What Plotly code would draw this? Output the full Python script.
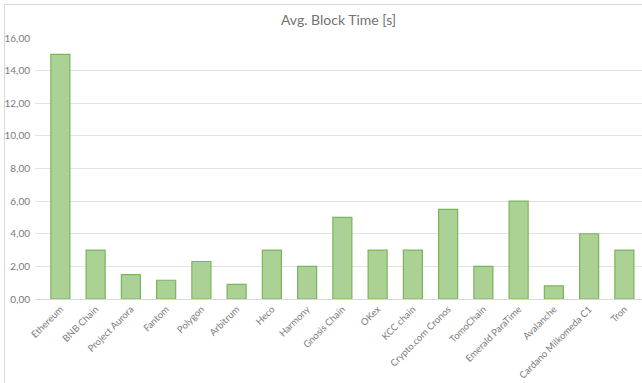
import plotly.graph_objects as go

categories = ["Ethereum", "BNB Chain", "Project Aurora", "Fantom", "Polygon", "Arbitrum",
              "Heco", "Harmony", "Gnosis Chain", "OKex", "KCC chain", "Crypto.com Cronos",
              "TomoChain", "Emerald ParaTime", "Avalanche", "Cardano Milkomeda C1", "Tron"]
block_time = [15.0, 3.0, 1.5, 1.15, 2.3, 0.9, 3.0, 2.0, 5.0, 3.0, 3.0, 5.5, 2.0, 6.0, 0.8, 4.0, 3.0]
y_ticks = [0, 2, 4, 6, 8, 10, 12, 14, 16]
y_tick_labels = ["0,00", "2,00", "4,00", "6,00", "8,00", "10,00", "12,00", "14,00", "16,00"]

W, H = 642, 383
ml, mr, mt, mb = 35, 0, 38, 84

fig = go.Figure(go.Bar(
    x=list(range(len(categories))), y=block_time,
    marker=dict(color="#abd294", line=dict(color="#7ab55c", width=1.2)),
    width=0.54,
))

pw = W - ml - mr
ph = H - mt - mb
fig.update_layout(
    width=W, height=H,
    margin=dict(l=ml, r=mr, t=mt, b=mb, pad=0),
    paper_bgcolor="white", plot_bgcolor="white",
    font=dict(family="Lato, Open Sans, sans-serif", color="#7a7a7a", size=10),
    title=dict(text="Avg. Block Time [s]", x=0.5, xanchor="center", xref="paper",
               y=1 - 20 / H, yanchor="middle", font=dict(size=14, color="#727272")),
    showlegend=False,
    bargap=0.46,
    xaxis=dict(
        tickmode="array", tickvals=list(range(len(categories))), ticktext=categories,
        tickangle=-45, range=[-0.72, 16.5], showgrid=False, zeroline=False,
        showline=True, linecolor="#d9d9d9", linewidth=1, ticks="",
        tickfont=dict(size=9.5, color="#7a7a7a"), fixedrange=True,
    ),
    yaxis=dict(
        range=[0, 16], tickmode="array", tickvals=y_ticks, ticktext=y_tick_labels,
        showgrid=True, gridcolor="#e3e3e3", gridwidth=1, zeroline=False,
        showline=False, ticks="", ticklabelstandoff=4,
        tickfont=dict(size=10, color="#7a7a7a"),
    ),
    shapes=[
        dict(type="line", xref="paper", yref="paper",
             x0=(4.5 - ml) / pw, x1=(4.5 - ml) / pw, y0=(H - mb - 4.5) / ph, y1=(H - mb - 400) / ph,
             line=dict(color="#d9d9d9", width=1)),
        dict(type="line", xref="paper", yref="paper",
             x0=(4.5 - ml) / pw, x1=1.05, y0=(H - mb - 4.5) / ph, y1=(H - mb - 4.5) / ph,
             line=dict(color="#d9d9d9", width=1)),
    ],
)

fig.write_html("out.html")
